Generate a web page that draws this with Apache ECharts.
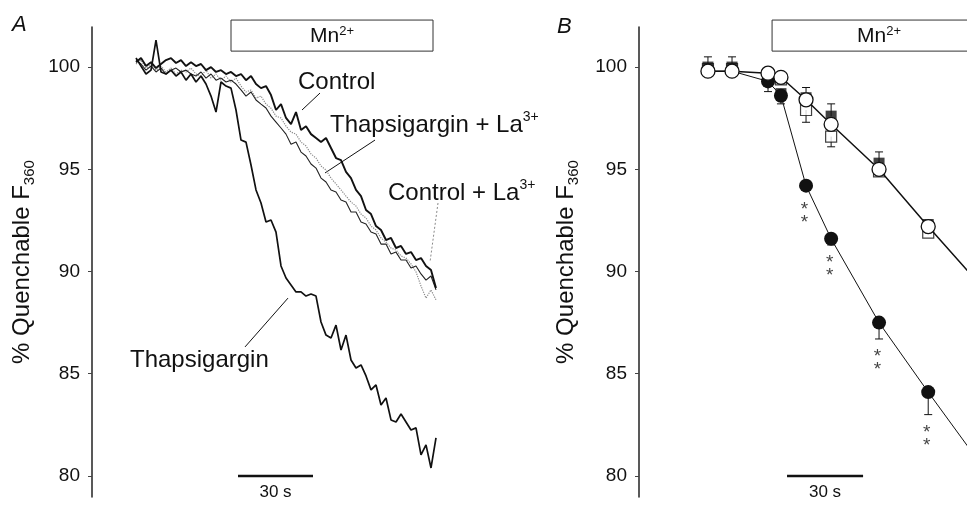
<!DOCTYPE html>
<html>
<head>
<meta charset="utf-8">
<script src="https://cdn.jsdelivr.net/npm/echarts@6/dist/echarts.min.js"></script>
<style>
  html, body { margin: 0; padding: 0; background: #fff; }
  #chart { width: 967px; height: 508px; }
</style>
</head>
<body>
<div id="chart"></div>
<script>
// --- panel A: quench traces, one reading every 2 s from t = 0 ---
const sampleStep = 2
const controlTrace = [100.24, 100.44, 100.05, 100.24, 99.95, 100.15, 100.34, 100.44, 100.2, 100.34,
  100.05, 100.24, 100.05, 100.15, 99.85, 100.0, 99.76, 99.85, 99.66, 99.76,
  99.56, 99.66, 99.36, 99.56, 99.17, 98.97, 99.07, 98.63, 97.9, 98.19,
  97.51, 97.21, 97.8, 96.92, 97.11, 96.72, 96.53, 96.33, 96.53, 96.04,
  95.55, 95.45, 94.87, 94.57, 93.99, 93.69, 93.01, 92.81, 92.22, 92.03,
  91.54, 91.64, 91.15, 91.25, 90.86, 90.95, 90.56, 90.66, 90.27, 90.07, 89.19]
const thapLaTrace = [100.34, 100.15, 99.85, 100.05, 99.76, 99.95, 99.66, 99.85, 99.95, 99.76,
  99.85, 99.66, 99.56, 99.76, 99.46, 99.66, 99.36, 99.46, 99.27, 99.36,
  99.17, 98.88, 98.58, 98.78, 98.39, 98.19, 98.0, 97.6, 97.31, 97.02,
  96.72, 96.23, 96.33, 95.84, 95.65, 95.26, 95.06, 94.57, 94.38, 93.99,
  93.89, 93.5, 93.4, 92.91, 92.91, 92.42, 92.32, 91.93, 91.83, 91.34,
  91.34, 90.86, 90.95, 90.56, 90.56, 90.17, 90.27, 89.88, 89.58, 89.78, 89.1]
const controlLaTrace = [100.15, 100.34, 99.95, 100.15, 99.85, 100.05, 99.76, 99.95, 99.66, 99.85,
  99.76, 99.95, 99.66, 99.56, 99.85, 99.46, 99.66, 99.36, 99.56, 99.27,
  99.46, 99.07, 98.78, 98.88, 98.48, 98.58, 98.19, 97.99, 97.6, 97.51,
  97.11, 96.82, 96.72, 96.33, 96.14, 95.75, 95.55, 95.16, 94.96, 94.57,
  94.28, 93.99, 93.69, 93.4, 93.2, 92.81, 92.62, 92.22, 92.03, 91.64,
  91.44, 91.15, 91.05, 90.76, 90.66, 90.37, 89.98, 89.29, 88.7, 89.1, 88.61]
const thapTrace = [100.44, 100.05, 99.66, 99.85, 101.32, 99.76, 99.66, 99.85, 99.56, 99.76,
  99.36, 99.66, 99.27, 99.56, 99.17, 98.58, 97.8, 99.27, 99.07, 98.97,
  97.9, 96.43, 96.33, 95.21, 93.99, 93.35, 92.42, 92.52, 91.93, 90.27,
  89.68, 89.34, 89.0, 89.0, 88.8, 88.9, 88.8, 87.53, 86.89, 86.75,
  87.38, 86.16, 86.89, 85.67, 85.28, 85.43, 84.89, 84.21, 84.45, 83.47,
  83.81, 82.74, 82.64, 83.03, 82.64, 82.25, 82.35, 81.03, 81.52, 80.39, 81.86]

// --- panel B: mean values at sampled times (s) ---
const bTimes = [0, 9.5, 23.7, 28.8, 38.7, 48.6, 67.5, 86.9, 106.3]
const bControl = [99.8, 99.8, 99.7, 99.5, 98.4, 97.2, 95.0, 92.2, 89.5]
const bThap = [99.8, 99.8, 99.3, 98.6, 94.2, 91.6, 87.5, 84.1, 80.8]
const bThapLa = [100.0, 100.0, 99.4, 98.7, 98.5, 97.6, 95.3, 92.3]
const bControlLa = [99.9, 99.9, 99.6, 99.4, 97.9, 96.6, 94.9, 91.9]
// [time, mean, mean +/- s.e.m.]
const bErrors = [[0, 100.0, 100.5], [9.5, 100.0, 100.5], [23.7, 99.3, 98.8], [28.8, 98.6, 98.2],
  [38.7, 98.5, 99.0], [38.7, 97.9, 97.3], [48.6, 97.6, 98.2], [48.6, 96.6, 96.1], [48.6, 91.6, 91.3],
  [67.5, 95.3, 95.85], [67.5, 87.5, 86.7], [86.9, 84.1, 83.0]]
const bStars = [[38.1, 92.7], [48.0, 90.1], [66.9, 85.5], [86.3, 81.8]]

const yTicks = [80, 85, 90, 95, 100]
const yMin = 78.97
const yMax = 101.96

const font = "'Liberation Sans', Arial, Helvetica, sans-serif"
const ink = '#111'

function yAxisFor(gridIndex, nameGap) {
  return {
    type: 'value', gridIndex, min: yMin, max: yMax,
    axisLine: { show: true, onZero: false, lineStyle: { color: '#222', width: 1.5 } },
    axisTick: { show: true, length: 4, customValues: yTicks, lineStyle: { color: '#444', width: 1 } },
    axisLabel: { customValues: yTicks, color: ink, fontSize: 19, margin: 12, fontFamily: font },
    splitLine: { show: false },
    name: '{m|% Quenchable F}{s|360}',
    nameLocation: 'middle', nameGap, nameRotate: 90,
    nameTextStyle: {
      rich: {
        m: { fontSize: 24, fontFamily: font, color: ink, lineHeight: 30 },
        s: { fontSize: 15, fontFamily: font, color: ink, lineHeight: 15, verticalAlign: 'bottom' }
      }
    }
  }
}

const traceA = (arr) => arr.map((v, i) => [i * sampleStep, v])
const pairs = (times, vals) => vals.map((v, i) => [times[i], v])

const chart = echarts.init(document.getElementById('chart'))

chart.setOption({
  animation: false,
  backgroundColor: '#fff',
  grid: [
    { left: 92, top: 27, width: 354, height: 470 },
    { left: 639, top: 27, width: 328, height: 470 }
  ],
  xAxis: [
    { type: 'value', gridIndex: 0, min: -17.6, max: 124, show: false },
    { type: 'value', gridIndex: 1, min: -27.2, max: 102.2, show: false }
  ],
  yAxis: [yAxisFor(0, 55), yAxisFor(1, 58)],
  series: [
    { type: 'line', name: 'Control + La', xAxisIndex: 0, yAxisIndex: 0, showSymbol: false,
      data: traceA(controlLaTrace), lineStyle: { color: '#8a8a8a', width: 1.2, type: 'dotted' } },
    { type: 'line', name: 'Thapsigargin + La', xAxisIndex: 0, yAxisIndex: 0, showSymbol: false,
      data: traceA(thapLaTrace), lineStyle: { color: '#222', width: 1.1 } },
    { type: 'line', name: 'Control', xAxisIndex: 0, yAxisIndex: 0, showSymbol: false,
      data: traceA(controlTrace), lineStyle: { color: '#111', width: 1.9 } },
    { type: 'line', name: 'Thapsigargin', xAxisIndex: 0, yAxisIndex: 0, showSymbol: false,
      data: traceA(thapTrace), lineStyle: { color: '#111', width: 1.7 } },

    { type: 'custom', name: 'sem', xAxisIndex: 1, yAxisIndex: 1, data: bErrors,
      encode: { x: 0, y: [1, 2] },
      renderItem(params, api) {
        const t = api.value(0)
        const a = api.coord([t, api.value(1)])
        const b = api.coord([t, api.value(2)])
        return {
          type: 'group',
          children: [
            { type: 'line', shape: { x1: a[0], y1: a[1], x2: b[0], y2: b[1] }, style: { stroke: ink, lineWidth: 1 } },
            { type: 'line', shape: { x1: b[0] - 4, y1: b[1], x2: b[0] + 4, y2: b[1] }, style: { stroke: ink, lineWidth: 1 } }
          ]
        }
      } },
    { type: 'scatter', name: 'Control + La (B)', xAxisIndex: 1, yAxisIndex: 1, symbol: 'rect', symbolSize: 11,
      data: pairs(bTimes, bControlLa), itemStyle: { color: '#fff', borderColor: ink, borderWidth: 1.2 } },
    { type: 'scatter', name: 'Thapsigargin + La (B)', xAxisIndex: 1, yAxisIndex: 1, symbol: 'rect', symbolSize: 11,
      data: pairs(bTimes, bThapLa), itemStyle: { color: ink } },
    { type: 'line', name: 'Thapsigargin (B)', xAxisIndex: 1, yAxisIndex: 1, symbol: 'circle', symbolSize: 14,
      showAllSymbol: true, data: pairs(bTimes, bThap),
      lineStyle: { color: ink, width: 1 }, itemStyle: { color: ink } },
    { type: 'line', name: 'Control (B)', xAxisIndex: 1, yAxisIndex: 1, symbol: 'circle', symbolSize: 14,
      showAllSymbol: true, data: pairs(bTimes, bControl),
      lineStyle: { color: ink, width: 1.5 }, itemStyle: { color: '#fff', borderColor: ink, borderWidth: 1.3 } },
    { type: 'scatter', name: 'p < 0.01', xAxisIndex: 1, yAxisIndex: 1, symbol: 'circle', symbolSize: 1,
      data: bStars, itemStyle: { color: 'rgba(0,0,0,0)' },
      label: { show: true, position: 'inside', formatter: '*\n*', fontSize: 19, lineHeight: 13, color: ink, fontFamily: font } }
  ]
})

// annotations placed through the axes' scales
const pA = (t, v) => chart.convertToPixel({ gridIndex: 0 }, [t, v])
const pB = (t, v) => chart.convertToPixel({ gridIndex: 1 }, [t, v])

function box(p, t0, t1) {
  const a = p(t0, 102.3), b = p(t1, 100.78)
  return [
    { type: 'rect', shape: { x: a[0], y: a[1], width: b[0] - a[0], height: b[1] - a[1] },
      style: { fill: 'none', stroke: '#333', lineWidth: 1 } },
    { type: 'text', x: (a[0] + b[0]) / 2, y: (a[1] + b[1]) / 2 + 1,
      style: { text: '{m|Mn}{s|2+}', align: 'center', verticalAlign: 'middle',
        rich: { m: { fontSize: 21, fontFamily: font, fill: ink, lineHeight: 24 },
                s: { fontSize: 13, fontFamily: font, fill: ink, lineHeight: 13, verticalAlign: 'top' } } } }
  ]
}
function label(p, t, v, text) {
  const q = p(t, v)
  return { type: 'text', x: q[0], y: q[1],
    style: { text, align: 'left', verticalAlign: 'middle',
      rich: { m: { fontSize: 24, fontFamily: font, fill: ink, lineHeight: 30 },
              s: { fontSize: 14, fontFamily: font, fill: ink, lineHeight: 14, verticalAlign: 'top' } } } }
}
function pointer(p, t0, v0, t1, v1, dotted) {
  const a = p(t0, v0), b = p(t1, v1)
  return { type: 'line', shape: { x1: a[0], y1: a[1], x2: b[0], y2: b[1] },
    style: { stroke: dotted ? '#8a8a8a' : ink, lineWidth: 1, lineDash: dotted ? [2, 2] : null } }
}
function scaleBar(p, t0, t1) {
  const a = p(t0, 80), b = p(t1, 80)
  return [
    { type: 'line', shape: { x1: a[0], y1: a[1], x2: b[0], y2: b[1] }, style: { stroke: ink, lineWidth: 2.5 } },
    { type: 'text', x: (a[0] + b[0]) / 2, y: a[1] + 8,
      style: { text: '30 s', align: 'center', verticalAlign: 'top', fontSize: 17, fontFamily: font, fill: ink } }
  ]
}

chart.setOption({
  graphic: [
    ...box(pA, 38, 118.8),
    ...box(pB, 25.3, 109.7),
    ...scaleBar(pA, 40.8, 70.8),
    ...scaleBar(pB, 31.2, 61.2),
    label(pA, 64.8, 99.27, '{m|Control}'),
    label(pA, 77.6, 97.16, '{m|Thapsigargin + La}{s|3+}'),
    label(pA, 100.8, 93.84, '{m|Control + La}{s|3+}'),
    label(pA, -2.4, 85.67, '{m|Thapsigargin}'),
    pointer(pA, 66.4, 97.9, 73.6, 98.73),
    pointer(pA, 75.6, 94.82, 95.6, 96.43),
    pointer(pA, 120.8, 93.35, 117.6, 90.46, true),
    pointer(pA, 60.8, 88.7, 43.6, 86.31),
    { type: 'text', left: 12, top: 14, style: { text: 'A', fontSize: 22, fontStyle: 'italic', fontFamily: font, fill: ink } },
    { type: 'text', left: 557, top: 16, style: { text: 'B', fontSize: 22, fontStyle: 'italic', fontFamily: font, fill: ink } }
  ]
})
</script>
</body>
</html>
